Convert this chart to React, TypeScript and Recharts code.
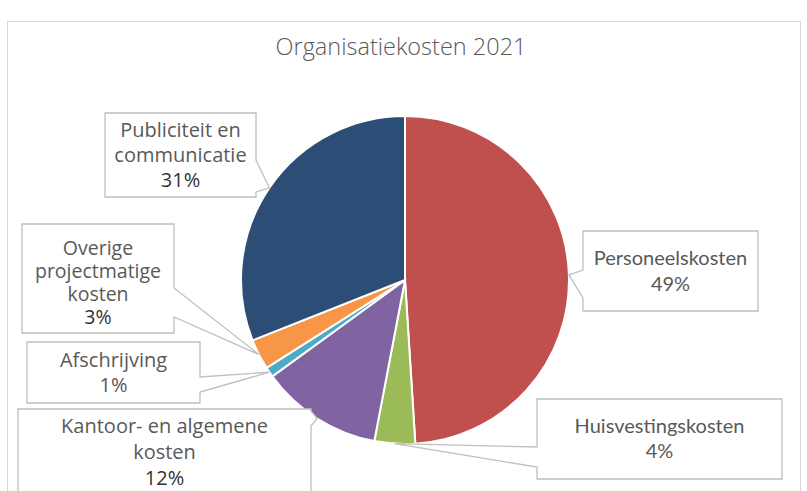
import { PieChart, Pie, Cell } from "recharts";

const categories = [
  "Personeelskosten",
  "Huisvestingskosten",
  "Kantoor- en algemene kosten",
  "Afschrijving",
  "Overige projectmatige kosten",
  "Publiciteit en communicatie",
];
const shares = [49, 4, 12, 1, 3, 31];
const colors = ["#C0504D", "#9BBB59", "#8064A2", "#4BACC6", "#F79646", "#2C4D75"];
// how each category name is broken over lines inside its label box
const labelLines = [
  ["Personeelskosten"],
  ["Huisvestingskosten"],
  ["Kantoor- en algemene", "kosten"],
  ["Afschrijving"],
  ["Overige", "projectmatige", "kosten"],
  ["Publiciteit en", "communicatie"],
];

const data = categories.map((name, i) => ({ name, value: shares[i] }));

const AVENIR = "'Open Sans', 'Noto Sans', sans-serif";
const CALIBRI = "Lato, 'Open Sans', sans-serif";

// callout boxes: box rect, side of the wedge and its base on that side
const boxes = [
  { x: 583, y: 231, w: 175, h: 80, side: "left", s1: 298, s2: 270, textY: 265, lh: 26, font: CALIBRI, size: 20, dark: false },
  { x: 537, y: 399, w: 245, h: 80, side: "left", s1: 467, s2: 447, textY: 433, lh: 25, font: CALIBRI, size: 20, dark: false },
  { x: 18, y: 409, w: 293, h: 110, side: "right", s1: 411, s2: 426, textY: 433, lh: 26, font: AVENIR, size: 20, dark: true },
  { x: 27, y: 342, w: 173, h: 61, side: "right", s1: 377, s2: 392, textY: 367, lh: 25, font: AVENIR, size: 20, dark: false },
  { x: 22, y: 224, w: 152, h: 109, side: "right", s1: 288, s2: 317, textY: 255, lh: 23, font: AVENIR, size: 19.5, dark: true },
  { x: 105, y: 113, w: 151, h: 84, side: "right", s1: 160, s2: 192, textY: 137, lh: 25, font: AVENIR, size: 20, dark: true },
];

const RAD = Math.PI / 180;

function calloutPath(b: any, tx: number, ty: number) {
  const L = b.x, T = b.y, R = b.x + b.w, B = b.y + b.h;
  const tip = `L${tx},${ty}`;
  if (b.side === "left")
    return `M${L},${T}L${R},${T}L${R},${B}L${L},${B}L${L},${b.s1}${tip}L${L},${b.s2}Z`;
  if (b.side === "right")
    return `M${L},${T}L${R},${T}L${R},${b.s1}${tip}L${R},${b.s2}L${R},${B}L${L},${B}Z`;
  if (b.side === "top")
    return `M${L},${T}L${b.s1},${T}${tip}L${b.s2},${T}L${R},${T}L${R},${B}L${L},${B}Z`;
  return `M${L},${T}L${R},${T}L${R},${B}L${b.s1},${B}${tip}L${b.s2},${B}L${L},${B}Z`;
}

function renderLabel(props: any) {
  const { cx, cy, midAngle, outerRadius, percent, index } = props;
  const b = boxes[index];
  const tx = cx + outerRadius * Math.cos(-midAngle * RAD);
  const ty = cy + outerRadius * Math.sin(-midAngle * RAD);
  const lines = labelLines[index];
  const mid = b.x + b.w / 2;
  const pct = `${Math.round(percent * 100)}%`;
  return (
    <g key={`lbl-${index}`}>
      <path d={calloutPath(b, tx, ty)} fill="#ffffff" stroke="#bfbfbf" strokeWidth={1.3} />
      {lines.map((ln, j) => (
        <text key={j} x={mid} y={b.textY + j * b.lh} textAnchor="middle" fill="#595959"
          style={{ fontFamily: b.font, fontSize: b.size }}>
          {ln}
        </text>
      ))}
      <text x={mid} y={b.textY + lines.length * b.lh} textAnchor="middle"
        fill={b.dark ? "#333333" : "#595959"}
        style={{ fontFamily: b.font, fontSize: b.size }}>
        {pct}
      </text>
    </g>
  );
}

export default function App() {
  return (
    <div style={{ position: "absolute", left: 0, top: 0, width: 807, height: 491, overflow: "hidden", background: "#fff" }}>
      <div style={{ position: "absolute", left: 7, top: 21, width: 792, height: 520, border: "1px solid #d9d9d9" }} />
      <div style={{ position: "absolute", left: 0, top: 30, width: 802, textAlign: "center", fontFamily: AVENIR, fontWeight: 300, fontSize: 23.5, color: "#595959" }}>
        Organisatiekosten 2021
      </div>
      <div style={{ position: "absolute", left: 0, top: 0 }}>
        <PieChart width={807} height={491} margin={{ top: 0, right: 0, bottom: 0, left: 0 }}>
          <Pie
            data={data}
            dataKey="value"
            nameKey="name"
            cx={405}
            cy={280}
            outerRadius={164}
            startAngle={90}
            endAngle={-270}
            stroke="#ffffff"
            strokeWidth={2}
            label={renderLabel}
            labelLine={false}
            isAnimationActive={false}
          >
            {data.map((d, i) => (
              <Cell key={d.name} fill={colors[i]} />
            ))}
          </Pie>
        </PieChart>
      </div>
    </div>
  );
}
